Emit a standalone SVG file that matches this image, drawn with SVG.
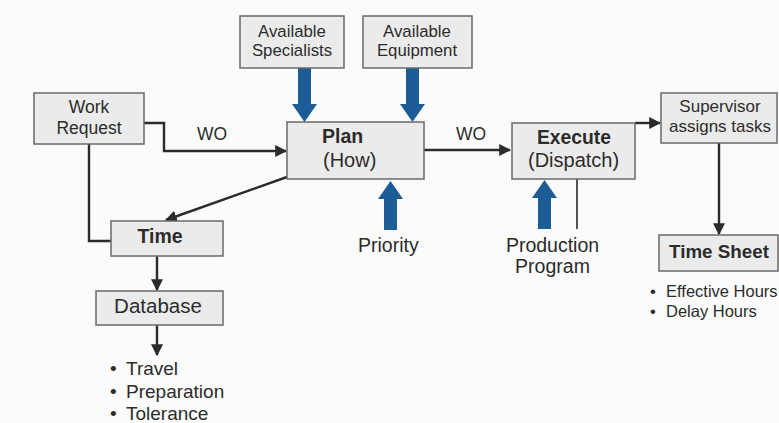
<svg xmlns="http://www.w3.org/2000/svg" width="779" height="423" viewBox="0 0 779 423">
  <defs>
    <style>
      .box { fill: #ebebeb; stroke: #6a6a6a; stroke-width: 1.5; }
      .t { font-family: "Liberation Sans", Arial, sans-serif; fill: #2b2b2b; }
      .c { text-anchor: middle; }
      .b { font-weight: bold; }
      .line { fill: none; stroke: #2b2b2b; stroke-width: 2.4; }
      .thin { fill: none; stroke: #2b2b2b; stroke-width: 1.6; }
      .blue { fill: #1c5d98; }
    </style>
    <marker id="ah" viewBox="0 0 10 10" refX="9" refY="5" markerWidth="5" markerHeight="5" orient="auto" markerUnits="strokeWidth">
      <path d="M0,0 L10,5 L0,10 z" fill="#2b2b2b"/>
    </marker>
  </defs>

  <rect width="779" height="423" fill="#fbfbfb"/>

  <!-- connectors -->
  <g id="connectors">
    <!-- Work Request to Plan -->
    <polyline class="line" points="144,123 164,123 164,151 286,151" marker-end="url(#ah)"/>
    <text class="t" x="197" y="140" font-size="17.5">WO</text>
    <!-- Work Request down to Time -->
    <polyline class="line" points="89,144 89,241 111,241"/>
    <!-- Plan to Time -->
    <line class="line" x1="287" y1="177" x2="166" y2="220" marker-end="url(#ah)"/>
    <!-- Plan to Execute -->
    <line class="line" x1="424" y1="150" x2="510" y2="150" marker-end="url(#ah)"/>
    <text class="t" x="456" y="140" font-size="17.5">WO</text>
    <!-- Execute to Supervisor -->
    <line class="line" x1="635" y1="123" x2="660" y2="123" marker-end="url(#ah)"/>
    <!-- Supervisor to Time Sheet -->
    <line class="line" x1="719" y1="143" x2="719" y2="234" marker-end="url(#ah)"/>
    <!-- Time to Database -->
    <line class="line" x1="157" y1="256" x2="157" y2="290" marker-end="url(#ah)"/>
    <!-- Database to list -->
    <line class="line" x1="157" y1="325" x2="157" y2="355" marker-end="url(#ah)"/>
    <!-- Production Program line into Execute -->
    <line class="thin" x1="577" y1="179" x2="577" y2="229"/>

    <!-- blue input arrows -->
    <path class="blue" d="M298,68 H311 V104 H317 L304.5,122 L292,104 H298 Z"/>
    <path class="blue" d="M406,68 H419 V104 H425 L412.5,122 L400,104 H406 Z"/>
    <path class="blue" d="M384,230 H397 V199 H403 L390.5,181 L378,199 H384 Z"/>
    <path class="blue" d="M538,229 H551 V198 H557 L544.5,180 L532,198 H538 Z"/>
  </g>

  <g id="work-request">
    <rect class="box" x="34" y="93" width="110" height="51"/>
    <text class="t c" x="89" y="113" font-size="17.5">Work</text>
    <text class="t c" x="89" y="134" font-size="17.5">Request</text>
  </g>

  <g id="available-specialists">
    <rect class="box" x="240" y="16" width="104" height="52"/>
    <text class="t c" x="292" y="37" font-size="16.8">Available</text>
    <text class="t c" x="292" y="56" font-size="16.8">Specialists</text>
  </g>

  <g id="available-equipment">
    <rect class="box" x="363" y="16" width="109" height="52"/>
    <text class="t c" x="417" y="37" font-size="16.8">Available</text>
    <text class="t c" x="417" y="56" font-size="16.8">Equipment</text>
  </g>

  <g id="plan">
    <rect class="box" x="287" y="122" width="137" height="57"/>
    <text class="t b" x="322" y="143" font-size="19.5">Plan</text>
    <text class="t" x="323" y="167" font-size="20">(How)</text>
  </g>

  <g id="priority">
    <text class="t" x="358" y="252" font-size="19.5">Priority</text>
  </g>

  <g id="execute">
    <rect class="box" x="512" y="123" width="123" height="56"/>
    <text class="t b" x="537" y="144" font-size="19.3">Execute</text>
    <text class="t" x="528" y="167" font-size="20">(Dispatch)</text>
  </g>

  <g id="production-program">
    <text class="t c" x="552.5" y="252" font-size="19.5">Production</text>
    <text class="t c" x="552.5" y="273" font-size="19.5">Program</text>
  </g>

  <g id="supervisor">
    <rect class="box" x="661" y="93" width="116" height="50"/>
    <text class="t c" x="720" y="112" font-size="17">Supervisor</text>
    <text class="t c" x="720" y="132" font-size="17">assigns tasks</text>
  </g>

  <g id="time-sheet">
    <rect class="box" x="659" y="235" width="119" height="36"/>
    <text class="t c b" x="719" y="258" font-size="18.8">Time Sheet</text>
    <text class="t" x="650" y="297" font-size="16.5">•</text>
    <text class="t" x="666" y="297" font-size="16.5">Effective Hours</text>
    <text class="t" x="650" y="317" font-size="16.5">•</text>
    <text class="t" x="666" y="317" font-size="16.5">Delay Hours</text>
  </g>

  <g id="time">
    <rect class="box" x="111" y="221" width="112" height="35"/>
    <text class="t c b" x="160" y="243" font-size="19.5">Time</text>
  </g>

  <g id="database">
    <rect class="box" x="96" y="291" width="127" height="34"/>
    <text class="t c" x="158" y="313" font-size="20.5">Database</text>
    <text class="t" x="110" y="375" font-size="19">•</text>
    <text class="t" x="126" y="375" font-size="19">Travel</text>
    <text class="t" x="110" y="398" font-size="19">•</text>
    <text class="t" x="126" y="398" font-size="19">Preparation</text>
    <text class="t" x="110" y="420" font-size="19">•</text>
    <text class="t" x="126" y="420" font-size="19">Tolerance</text>
  </g>
</svg>
